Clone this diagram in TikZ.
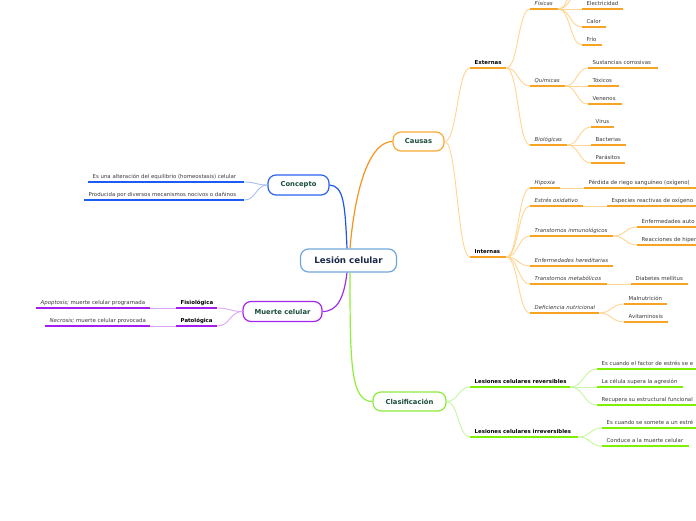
\documentclass[tikz,border=0pt]{standalone}
\usepackage{fontspec}
\setmainfont{DejaVu Sans}
\usetikzlibrary{calc}
\definecolor{orU}{HTML}{F7A425}
\definecolor{orL}{HTML}{FFD592}
\definecolor{orB}{HTML}{F9A937}
\definecolor{orM}{HTML}{F7941D}
\definecolor{grU}{HTML}{7FF000}
\definecolor{grL}{HTML}{C6F7A0}
\definecolor{grB}{HTML}{8CEB3C}
\definecolor{grM}{HTML}{8EF03A}
\definecolor{blU}{HTML}{1E5BF5}
\definecolor{blL}{HTML}{A8BEF2}
\definecolor{blB}{HTML}{2B62F0}
\definecolor{blM}{HTML}{1F57EE}
\definecolor{puU}{HTML}{A51EF0}
\definecolor{puL}{HTML}{DCA8F5}
\definecolor{puB}{HTML}{A527EE}
\definecolor{puM}{HTML}{A030F0}
\definecolor{lcB}{HTML}{6FA8DC}
\definecolor{navy}{HTML}{1B2A4A}
\definecolor{dkg}{HTML}{1B4D3E}
\definecolor{leaftxt}{HTML}{3A3A3A}
\tikzset{
  leaf/.style={anchor=south west, inner xsep=4.5pt, inner ysep=0pt,
    text height=4pt, text depth=3.7pt, font=\fontsize{5.4}{6}\selectfont, text=leaftxt},
  mainnode/.style={rounded corners=8pt, line width=1.2pt, fill=white, inner sep=0pt,
    text=dkg, font=\bfseries\fontsize{6.8}{8}\selectfont},
  hc/.style={to path={let \p1=(\tikztostart), \p2=(\tikztotarget) in
    .. controls ({0.5*\x1+0.5*\x2},\y1) and ({0.5*\x1+0.5*\x2},\y2) .. (\tikztotarget)}},
  ulO/.style={orU, line width=1.5pt},
  ulG/.style={grU, line width=1.5pt},
  ulB/.style={blU, line width=1.5pt},
  ulP/.style={puU, line width=1.5pt},
  cnO/.style={orL, line width=0.9pt, hc},
  cnG/.style={grL, line width=0.9pt, hc},
  cnB/.style={blL, line width=0.9pt, hc},
  cnP/.style={puL, line width=0.9pt, hc},
}
\newcommand\lf[6]{%
  \pgfmathsetmacro\lfw{#4-#3-9}%
  \node[leaf] (#2) at (#3,#5) {\makebox[\lfw pt][l]{#6}};
  \draw[#1] (#2.south west) -- (#2.south east);}
\begin{document}
\begin{tikzpicture}[x=1pt,y=-1pt]
\useasboundingbox (0,0) rectangle (696,520);
\fill[white] (0,0) rectangle (696,520);
\clip (0,0) rectangle (696,520);

% main nodes
\node[mainnode, draw=lcB, text=navy, minimum width=96pt, minimum height=23pt,
  font=\bfseries\fontsize{8.7}{10}\selectfont] (lc) at (348.5,260.5) {Lesión celular};
\node[mainnode, draw=blB, minimum width=61pt, minimum height=20pt] (con) at (298.5,185) {Concepto};
\node[mainnode, draw=puB, minimum width=79pt, minimum height=20pt] (mue) at (282.5,311.5) {Muerte celular};
\node[mainnode, draw=orB, minimum width=51pt, minimum height=19pt] (cau) at (418.5,141.5) {Causas};
\node[mainnode, draw=grB, minimum width=73pt, minimum height=19pt] (cla) at (409.5,401.5) {Clasificación};

% main connectors
\draw[blM, line width=1.2pt] ([xshift=-1.5pt]lc.north) .. controls +(-2,-45) and +(14,1) .. (con.east);
\draw[orM, line width=1.2pt] ([xshift=1.5pt]lc.north) .. controls +(6,-70) and +(-20,0) .. (cau.west);
\draw[puM, line width=1.2pt] ([xshift=-1.5pt]lc.south) .. controls +(-3,25) and +(15,0) .. (mue.east);
\draw[grM, line width=1.2pt] ([xshift=1.5pt]lc.south) .. controls +(0,90) and +(-22,0) .. (cla.west);

% Causas
\lf{ulO}{ext}{470}{506}{68}{\textbf{\color{black}Externas}}
\lf{ulO}{int}{470}{506}{257}{\textbf{\color{black}Internas}}
\lf{ulO}{fis}{530}{558}{9}{\textit{Físicas}}
\lf{ulO}{qui}{530}{565}{86}{\textit{Químicas}}
\lf{ulO}{bio}{530}{567}{145}{\textit{Biológicas}}
\lf{ulO}{ele}{582}{623}{9}{Electricidad}
\lf{ulO}{cal}{582}{606}{27}{Calor}
\lf{ulO}{fri}{582}{602}{45}{Frío}
\lf{ulO}{sus}{588}{658}{68}{Sustancias corrosivas}
\lf{ulO}{tox}{588}{619}{86}{Tóxicos}
\lf{ulO}{ven}{588}{622}{104}{Venenos}
\lf{ulO}{vir}{591}{614}{127}{Virus}
\lf{ulO}{bac}{591}{626}{145}{Bacterias}
\lf{ulO}{par}{591}{625}{163}{Parásitos}
\lf{ulO}{hip}{530}{560}{188}{\textit{Hipoxia}}
\lf{ulO}{per}{584}{700}{188}{Pérdida de riego sanguíneo (oxígeno)}
\lf{ulO}{est}{530}{583}{206}{\textit{Estrés oxidativo}}
\lf{ulO}{esp}{607}{700}{206}{Especies reactivas de oxígeno}
\lf{ulO}{tra}{530}{613}{236}{\textit{Transtornos inmunológicos}}
\lf{ulO}{aut}{637}{740}{227}{Enfermedades auto}
\lf{ulO}{rea}{637}{740}{245}{Reacciones de hiper}
\lf{ulO}{her}{530}{613}{266}{\textit{Enfermedades hereditarias}}
\lf{ulO}{met}{530}{607}{284}{\textit{Transtornos metabólicos}}
\lf{ulO}{dia}{631}{688}{284}{Diabetes mellitus}
\lf{ulO}{def}{530}{599}{313}{\textit{Deficiencia nutricional}}
\lf{ulO}{mal}{624}{667}{304}{Malnutrición}
\lf{ulO}{avi}{624}{668}{322}{Avitaminosis}
\coordinate (fx1) at (582,-9);
\coordinate (fx2) at (582,-27);

\draw[cnO] (cau.east) to (ext.south west);
\draw[cnO] (cau.east) to (int.south west);
\foreach \c in {fis,qui,bio} \draw[cnO] (ext.south east) to (\c.south west);
\foreach \c in {ele,cal,fri} \draw[cnO] (fis.south east) to (\c.south west);
\draw[cnO] (fis.south east) to (fx1);
\draw[cnO] (fis.south east) to (fx2);
\foreach \c in {sus,tox,ven} \draw[cnO] (qui.south east) to (\c.south west);
\foreach \c in {vir,bac,par} \draw[cnO] (bio.south east) to (\c.south west);
\foreach \c in {hip,est,tra,her,met,def} \draw[cnO] (int.south east) to (\c.south west);
\draw[cnO] (hip.south east) to (per.south west);
\draw[cnO] (est.south east) to (esp.south west);
\foreach \c in {aut,rea} \draw[cnO] (tra.south east) to (\c.south west);
\draw[cnO] (met.south east) to (dia.south west);
\foreach \c in {mal,avi} \draw[cnO] (def.south east) to (\c.south west);

% Clasificación
\lf{ulG}{rev}{470}{570}{387}{\textbf{\color{black}Lesiones celulares reversibles}}
\lf{ulG}{irr}{470}{578}{437}{\textbf{\color{black}Lesiones celulares irreversibles}}
\lf{ulG}{ra}{597}{760}{369}{Es cuando el factor de estrés se e}
\lf{ulG}{rb}{597}{683}{387}{La célula supera la agresión}
\lf{ulG}{rc}{597}{700}{405}{Recupera su estructural funcional}
\lf{ulG}{ia}{602}{760}{428}{Es cuando se somete a un estré}
\lf{ulG}{ib}{602}{689}{446}{Conduce a la muerte celular}
\draw[cnG] (cla.east) to (rev.south west);
\draw[cnG] (cla.east) to (irr.south west);
\foreach \c in {ra,rb,rc} \draw[cnG] (rev.south east) to (\c.south west);
\foreach \c in {ia,ib} \draw[cnG] (irr.south east) to (\c.south west);

% Concepto
\lf{ulB}{ca}{88}{244}{182}{Es una alteración del equilibrio (homeostasis) celular}
\lf{ulB}{cb}{84}{244}{200}{Producida por diversos mecanismos nocivos o dañinos}
\draw[cnB] (con.west) to (ca.south east);
\draw[cnB] (con.west) to (cb.south east);

% Muerte celular
\lf{ulP}{fi}{176}{217}{308}{\textbf{\color{black}Fisiológica}}
\lf{ulP}{pa}{176}{217}{326}{\textbf{\color{black}Patológica}}
\lf{ulP}{ap}{36}{150}{308}{\textit{Apoptosis;} muerte celular programada}
\lf{ulP}{ne}{45}{150}{326}{\textit{Necrosis;} muerte celular provocada}
\draw[cnP] (mue.west) to (fi.south east);
\draw[cnP] (mue.west) to (pa.south east);
\draw[cnP] (fi.south west) to (ap.south east);
\draw[cnP] (pa.south west) to (ne.south east);
\end{tikzpicture}
\end{document}
